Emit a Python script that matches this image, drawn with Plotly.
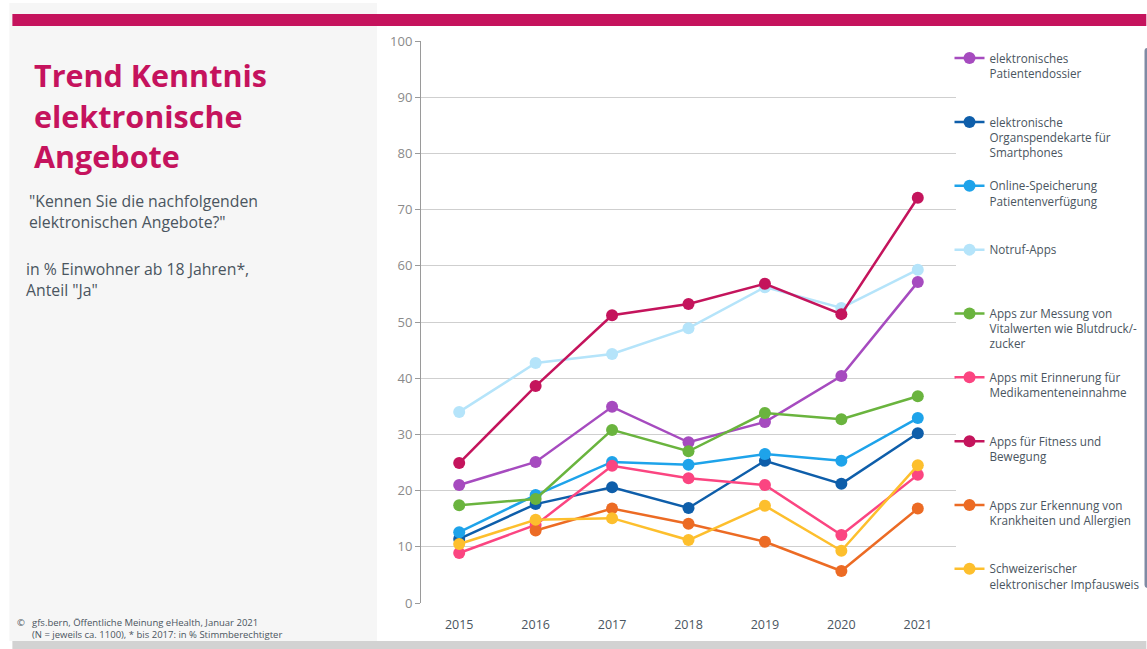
import plotly.graph_objects as go

years = [2015, 2016, 2017, 2018, 2019, 2020, 2021]

names = [
    "elektronisches<br>Patientendossier",
    "elektronische<br>Organspendekarte für<br>Smartphones",
    "Online-Speicherung<br>Patientenverfügung",
    "Notruf-Apps",
    "Apps zur Messung von<br>Vitalwerten wie Blutdruck/-<br>zucker",
    "Apps mit Erinnerung für<br>Medikamenteneinnahme",
    "Apps für Fitness und<br>Bewegung",
    "Apps zur Erkennung von<br>Krankheiten und Allergien",
    "Schweizerischer<br>elektronischer Impfausweis",
]

patientendossier = [21.0, 25.1, 34.9, 28.6, 32.2, 40.4, 57.1]
organspendekarte = [11.4, 17.6, 20.6, 16.9, 25.3, 21.2, 30.2]
online_speicherung = [12.6, 19.2, 25.1, 24.6, 26.5, 25.3, 32.9]
notruf_apps = [34.0, 42.7, 44.3, 48.9, 56.2, 52.5, 59.3]
vitalwerte = [17.4, 18.5, 30.8, 27.0, 33.8, 32.7, 36.8]
medikamente = [8.9, 13.9, 24.4, 22.2, 21.0, 12.1, 22.8]
fitness = [24.9, 38.6, 51.2, 53.2, 56.8, 51.4, 72.1]
erkennung = [None, 12.9, 16.8, 14.1, 10.9, 5.7, 16.8]
impfausweis = [10.5, 14.8, 15.1, 11.2, 17.3, 9.3, 24.5]

series = [patientendossier, organspendekarte, online_speicherung, notruf_apps,
          vitalwerte, medikamente, fitness, erkennung, impfausweis]
colors = ["#a64bbf", "#0e5eaa", "#1ea3ea", "#b5e4fa", "#6ab43e",
          "#fb4581", "#c4145c", "#ec6b24", "#fdbf2d"]

title_lines = ["Trend Kenntnis", "elektronische", "Angebote"]
question_text = "\"Kennen Sie die nachfolgenden<br>elektronischen Angebote?\""
basis_text = "in % Einwohner ab 18 Jahren*,<br>Anteil \"Ja\""
source_text = ("gfs.bern, Öffentliche Meinung eHealth, Januar 2021<br>"
               "(N = jeweils ca. 1100), * bis 2017: in % Stimmberechtigter")

W, H = 1147, 649
L, R, T, B = 421, 956.5, 41, 603
FONT = "Open Sans"
TXT = "#4a5560"
LEG_FS = 11.7


def px(x):
    return (x - L) / (R - L)


def py(y):
    return (B - y) / (B - T)


fig = go.Figure()
for i, (nm, vals, col) in enumerate(zip(names, series, colors)):
    pad = 4 - nm.count("<br>") - 1
    label = nm + "<br> " * pad
    fig.add_trace(go.Scatter(
        x=years, y=vals, name=label, mode="lines+markers",
        line=dict(color=col, width=2.5),
        marker=dict(color=col, size=12),
        connectgaps=False,
    ))

shapes = [
    dict(type="rect", xref="paper", yref="paper", x0=px(9), x1=px(377), y0=py(641), y1=py(3),
         fillcolor="#f6f6f6", line=dict(width=0), layer="below"),
    dict(type="rect", xref="paper", yref="paper", x0=px(12), x1=px(1147), y0=py(26), y1=py(14),
         fillcolor="#c5135d", line=dict(width=0), layer="above"),
    dict(type="rect", xref="paper", yref="paper", x0=px(12), x1=px(1147), y0=py(649), y1=py(641),
         fillcolor="#d2d2d2", line=dict(width=0), layer="above"),
]


def note(text, x, ymid, size, color, bold=False):
    return dict(text=("<b>%s</b>" % text) if bold else text, x=px(x), y=py(ymid),
                xref="paper", yref="paper", xanchor="left", yanchor="middle", align="left",
                showarrow=False, font=dict(family=FONT, size=size, color=color))


ann = []
for k, t in enumerate(title_lines):
    ann.append(note(t, 32, 75 + 40.7 * k, 30.5, "#c5135d", bold=True))
ann.append(note(question_text, 27, 212, 15.8, TXT))
ann.append(note(basis_text, 24, 279, 15.8, TXT))
ann.append(note("©", 15, 622, 9.5, TXT))
ann.append(note(source_text, 30, 628, 9.5, TXT))

fig.update_layout(
    width=W, height=H,
    margin=dict(l=L, r=W - R, t=T, b=H - B, pad=0, autoexpand=False),
    paper_bgcolor="white", plot_bgcolor="white",
    font=dict(family=FONT, color=TXT),
    shapes=shapes, annotations=ann,
    showlegend=True,
    legend=dict(x=px(950), y=py(44), xanchor="left", yanchor="top",
                valign="top", bgcolor="rgba(0,0,0,0)",
                font=dict(family=FONT, size=LEG_FS, color=TXT),
                tracegroupgap=0, itemclick=False),
    xaxis=dict(range=[2014.5, 2021.5], tickmode="array", tickvals=years,
               ticktext=[str(y) for y in years], showgrid=False, zeroline=False,
               showline=False, ticks="", ticklabelstandoff=12,
               tickfont=dict(family=FONT, size=12.5, color=TXT),
               fixedrange=True),
    yaxis=dict(range=[0, 100], dtick=10, showgrid=True, gridcolor="#cfcfcf", gridwidth=1.3,
               zeroline=False, showline=True, linecolor="#9a9a9a", linewidth=1,
               ticks="outside", ticklen=5, tickcolor="#9a9a9a",
               tickfont=dict(family=FONT, size=13, color="#8a8a8a"), fixedrange=True),
)

fig.write_html("out.html",
               config={"displayModeBar": False},
               post_script="document.body.style.margin='0';document.body.style.overflow='hidden';")
